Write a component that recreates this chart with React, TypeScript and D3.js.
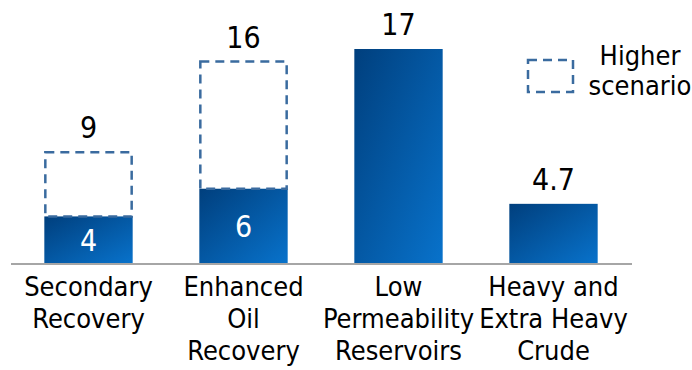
import React from "react";
import * as d3 from "d3";

const categories = [
  ["Secondary", "Recovery"],
  ["Enhanced", "Oil", "Recovery"],
  ["Low", "Permeability", "Reservoirs"],
  ["Heavy and", "Extra Heavy", "Crude"],
];
const baseValues = [3.7, 5.9, 17, 4.7];
const baseLabels = ["4", "6", "", ""];
const topLabels = ["9", "16", "17", "4.7"];
const higherValues = [8.8, 16, null, null];
const legendLabel = ["Higher", "scenario"];

const W = 692;
const H = 370;
const FONT = "'DejaVu Sans Condensed', 'DejaVu Sans', sans-serif";

export default function App() {
  const x = d3
    .scaleBand<number>()
    .domain(d3.range(categories.length))
    .range([11, 631])
    .paddingInner(0.43)
    .paddingOuter(0.215);
  const y = d3.scaleLinear().domain([0, 17]).range([263, 49]);
  const bw = x.bandwidth();

  return (
    <svg width={W} height={H} style={{ position: "absolute", left: 0, top: 0 }}>
      <defs>
        <linearGradient id="barGrad" x1="0" y1="0" x2="1" y2="1">
          <stop offset="0%" stopColor="#003f7d" />
          <stop offset="100%" stopColor="#0872cb" />
        </linearGradient>
      </defs>
      {baseValues.map((v, i) => {
        const x0 = x(i)!;
        const hv = higherValues[i];
        const topVal = hv != null ? hv : v;
        return (
          <g key={i}>
            <rect x={x0} y={y(v)} width={bw} height={y(0) - y(v)} fill="url(#barGrad)" />
            {hv != null && (
              <rect
                x={x0 + 1}
                y={y(hv)}
                width={bw - 2}
                height={y(v) - y(hv)}
                fill="none"
                stroke="#3a6b9f"
                strokeWidth={2.5}
                strokeDasharray="9,6"
              />
            )}
            {baseLabels[i] && (
              <text
                x={x0 + bw / 2}
                y={(y(v) + y(0)) / 2 + 1}
                textAnchor="middle"
                dominantBaseline="central"
                fill="#ffffff"
                fontFamily={FONT}
                fontSize={30}
              >
                {baseLabels[i]}
              </text>
            )}
            <text
              x={x0 + bw / 2}
              y={y(topVal) - 14}
              textAnchor="middle"
              fill="#000"
              fontFamily={FONT}
              fontSize={30}
            >
              {topLabels[i]}
            </text>
            {categories[i].map((line, j) => (
              <text
                key={j}
                x={x0 + bw / 2}
                y={296 + j * 32}
                textAnchor="middle"
                fill="#000"
                fontFamily={FONT}
                fontSize={27}
              >
                {line}
              </text>
            ))}
          </g>
        );
      })}
      <line x1={11} x2={632} y1={264} y2={264} stroke="#a6a6a6" strokeWidth={2} />
      <rect
        x={528}
        y={60}
        width={45}
        height={32}
        fill="none"
        stroke="#3a6b9f"
        strokeWidth={2.5}
        strokeDasharray="9,6"
      />
      {legendLabel.map((t, j) => (
        <text
          key={j}
          x={640}
          y={65 + j * 30}
          textAnchor="middle"
          fill="#000"
          fontFamily={FONT}
          fontSize={27}
        >
          {t}
        </text>
      ))}
    </svg>
  );
}
